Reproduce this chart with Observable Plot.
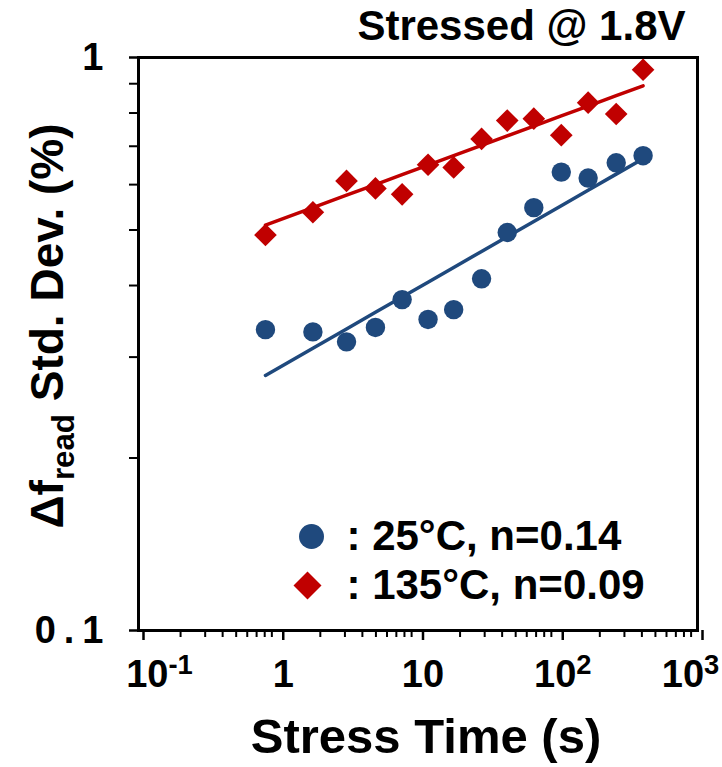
<!DOCTYPE html>
<html>
<head>
<meta charset="utf-8">
<script src="https://cdn.jsdelivr.net/npm/d3@7"></script>
<script src="https://cdn.jsdelivr.net/npm/@observablehq/plot@0.6"></script>
<style>
  html, body { margin: 0; padding: 0; background: #fff; }
  #chart svg { display: block; }
</style>
</head>
<body>
<div id="chart"></div>
<script>
// Stress times (s) shared by both temperature series
const stressTime = [0.81, 1.77, 3.08, 4.96, 7.7, 11.8, 18.0, 28.5, 43.5, 67.4, 106, 165, 262, 408];
// Std. dev. of the read-frequency shift (%) at 25 °C
const sigma25C = [0.335, 0.332, 0.319, 0.338, 0.378, 0.349, 0.363, 0.411, 0.495, 0.547, 0.631, 0.616, 0.655, 0.674];
// Std. dev. of the read-frequency shift (%) at 135 °C
const sigma135C = [0.490, 0.537, 0.609, 0.591, 0.577, 0.650, 0.643, 0.721, 0.776, 0.782, 0.732, 0.834, 0.797, 0.952];
// Power-law fits  sigma = A * t^n
const fitA = [0.287, 0.5196];
const fitN = [0.14, 0.09];
const seriesColors = ["#1F497D", "#C00000"];
const legendLabels = [": 25°C, n=0.14", ": 135°C, n=0.09"];
const titleText = "Stressed @ 1.8V";
const xLabelText = "Stress Time (s)";
const yLabelParts = ["Δf", "read", " Std. Dev. (%)"];
const xTickValues = [0.1, 1, 10, 100, 1000];
const xTickBase = ["10", "1", "10", "10", "10"];
const xTickExp = ["-1", "", "", "2", "3"];
const yTickValues = [0.1, 1];
const yTickLabels = ["0.1", "1"];

const pts25 = stressTime.map((t, i) => ({t, v: sigma25C[i]}));
const pts135 = stressTime.map((t, i) => ({t, v: sigma135C[i]}));
const fit25 = stressTime.map(t => ({t, v: fitA[0] * Math.pow(t, fitN[0])}));
const fit135 = stressTime.map(t => ({t, v: fitA[1] * Math.pow(t, fitN[1])}));

// minor log ticks 2..9 within each decade
const xMinor = [];
for (const k of [0.1, 1, 10, 100]) for (let m = 2; m <= 9; m++) xMinor.push(+(m * k).toPrecision(3));
const yMinor = [0.2, 0.3, 0.4, 0.5, 0.6, 0.7, 0.8, 0.9];

const xBaseMap = new Map(xTickValues.map((v, i) => [v, xTickBase[i]]));
const yLabMap = new Map(yTickValues.map((v, i) => [v, yTickLabels[i]]));
const yLabelFlat = yLabelParts.join("");

const chart = Plot.plot({
  width: 722,
  height: 767,
  marginLeft: 138,
  marginRight: 25,
  marginTop: 57,
  marginBottom: 137,
  style: {fontFamily: "'Liberation Sans', Arial, sans-serif", fontWeight: "bold", color: "#000", background: "#fff", overflow: "visible"},
  x: {type: "log", domain: [0.1, 1000]},
  y: {type: "log", domain: [0.1, 1]},
  marks: [
    // axis ticks (minor ticks carry no labels)
    Plot.axisX(xMinor, {anchor: "bottom", tickSize: 7, strokeWidth: 2, text: null, label: null}),
    Plot.axisX(xTickValues, {anchor: "bottom", tickSize: 10, strokeWidth: 2.5, tickPadding: 20, fontSize: 38, dx: 5,
      tickFormat: d => xBaseMap.get(d), label: null}),
    Plot.axisY(yMinor, {anchor: "left", tickSize: 9, strokeWidth: 2, text: null, label: null}),
    Plot.axisY(yTickValues, {anchor: "left", tickSize: 9, strokeWidth: 2.5, tickPadding: 18, fontSize: 38,
      tickFormat: d => yLabMap.get(d), label: null}),
    Plot.frame({stroke: "#000", strokeWidth: 3}),
    // fit lines
    Plot.line(fit25, {x: "t", y: "v", stroke: seriesColors[0], strokeWidth: 3.5}),
    Plot.line(fit135, {x: "t", y: "v", stroke: seriesColors[1], strokeWidth: 3.5}),
    // measured points
    Plot.dot(pts25, {x: "t", y: "v", r: 9.7, fill: seriesColors[0], symbol: "circle"}),
    Plot.dot(pts135, {x: "t", y: "v", r: 10.2, fill: seriesColors[1], symbol: "diamond2"}),
    // legend inside the frame
    Plot.dot([0], {frameAnchor: "bottom-left", dx: 173, dy: -94, r: 12.5, fill: seriesColors[0], symbol: "circle"}),
    Plot.dot([0], {frameAnchor: "bottom-left", dx: 169, dy: -45, r: 12.6, fill: seriesColors[1], symbol: "diamond2"}),
    Plot.text([legendLabels[0]], {text: d => d, frameAnchor: "bottom-left", dx: 208, dy: -94, textAnchor: "start", lineAnchor: "middle", fontSize: 42}),
    Plot.text([legendLabels[1]], {text: d => d, frameAnchor: "bottom-left", dx: 208, dy: -45, textAnchor: "start", lineAnchor: "middle", fontSize: 42}),
    // title and axis labels
    Plot.text([titleText], {text: d => d, frameAnchor: "top-right", dx: -12, dy: -31, textAnchor: "end", lineAnchor: "middle", fontSize: 42}),
    Plot.text([xLabelText], {text: d => d, frameAnchor: "bottom", dx: 8, dy: 107, textAnchor: "middle", lineAnchor: "middle", fontSize: 49}),
    Plot.text([yLabelFlat], {text: d => d, frameAnchor: "left", dx: -90, dy: -18, rotate: -90, textAnchor: "middle", lineAnchor: "middle", fontSize: 46})
  ]
});

const ns = "http://www.w3.org/2000/svg";

// superscript exponents on the labelled x ticks
const xLabelTexts = [...chart.querySelectorAll('g[aria-label="x-axis tick label"] text')]
  .filter(el => el.textContent !== "");
const xLabelShift = [16, 0, 0, 0, -12];
xLabelTexts.forEach((el, i) => {
  if (xLabelShift[i]) el.setAttribute("dx", xLabelShift[i]);
  if (!xTickExp[i]) return;
  const sup = document.createElementNS(ns, "tspan");
  sup.setAttribute("dy", "-0.5em");
  sup.setAttribute("font-size", "0.72em");
  sup.textContent = xTickExp[i];
  el.appendChild(sup);
});

// wider spacing on the y tick labels
chart.querySelectorAll('g[aria-label="y-axis tick label"] text').forEach(el => {
  el.style.letterSpacing = "8px";
});

// subscript "read" in the y label
chart.querySelectorAll("text").forEach(el => {
  if (el.textContent !== yLabelFlat) return;
  el.textContent = "";
  const a = document.createElementNS(ns, "tspan");
  a.textContent = yLabelParts[0];
  const b = document.createElementNS(ns, "tspan");
  b.setAttribute("font-size", "0.68em");
  b.setAttribute("dy", "0.35em");
  b.textContent = yLabelParts[1];
  const c = document.createElementNS(ns, "tspan");
  c.setAttribute("dy", "-0.24em");
  c.textContent = yLabelParts[2];
  el.append(a, b, c);
});

document.getElementById("chart").appendChild(chart);
</script>
</body>
</html>
